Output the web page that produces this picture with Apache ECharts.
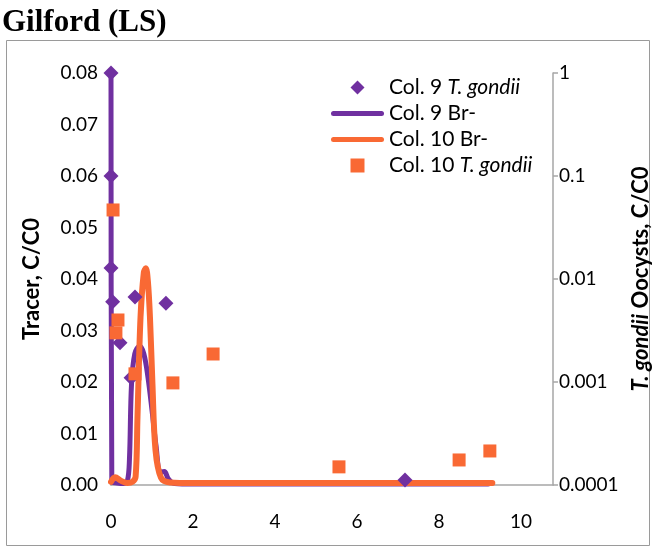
<!DOCTYPE html>
<html>
<head>
<meta charset="utf-8">
<title>Gilford (LS)</title>
<script src="https://cdn.jsdelivr.net/npm/echarts@6/dist/echarts.min.js"></script>
<style>
  html, body { margin: 0; padding: 0; background: #fff; }
  #chart { width: 656px; height: 550px; }
</style>
</head>
<body>
<div id="chart"></div>
<script>
// Column 9 tracer (Br-) breakthrough curve: [pore volumes, C/C0]
const col9Br = [
  [0, 0.080], [0.02, 0.0006], [0.15, 0.0004], [0.3, 0.0003], [0.4, 0.0008],
  [0.45, 0.005], [0.5, 0.0195], [0.58, 0.0255], [0.7, 0.0270], [0.8, 0.0255],
  [0.9, 0.021], [1.0, 0.0145], [1.1, 0.0075], [1.2, 0.0025], [1.3, 0.0026],
  [1.4, 0.0012], [1.55, 0.0003], [2, 0.0002], [4, 0.0002], [6, 0.0002],
  [8, 0.0002], [9.2, 0.0002]
];

// Column 10 tracer (Br-) breakthrough curve
const col10Br = [
  [0, 0.0006], [0.1, 0.0015], [0.25, 0.0008], [0.4, 0.0004], [0.52, 0.0006],
  [0.6, 0.0016], [0.646, 0.0132], [0.72, 0.0326], [0.8, 0.0412], [0.85, 0.0421],
  [0.9, 0.0395], [0.95, 0.0326], [1.01, 0.0198], [1.085, 0.0068], [1.22, 0.0014],
  [1.44, 0.0005], [2, 0.0004], [4, 0.0004], [6, 0.0004], [8, 0.0004], [9.3, 0.0004]
];

// T. gondii oocyst concentrations (log scale, right axis)
const col9Tgondii = [
  [0, 1.0], [0, 0.1], [0, 0.0128], [0.04, 0.006], [0.22, 0.0024],
  [0.49, 0.0011], [0.585, 0.0067], [1.34, 0.0058], [7.17, 0.000112]
];
const col10Tgondii = [
  [0.05, 0.0468], [0.17, 0.0040], [0.12, 0.0030], [0.585, 0.0012],
  [1.51, 0.00098], [2.49, 0.00187], [5.56, 0.00015], [8.49, 0.000175], [9.24, 0.000214]
];

const seriesNames = ['Col. 9 T. gondii', 'Col. 9 Br-', 'Col. 10 Br-', 'Col. 10 T. gondii'];
const logTickLabels = { '1': '1', '0.1': '0.1', '0.01': '0.01', '0.001': '0.001', '0.0001': '0.0001' };

const PURPLE = '#7030A0';
const ORANGE = '#F96934';
const AXIS_GREY = '#A6A6A6';
const FONT = 'Lato, "Open Sans", sans-serif';

const chart = echarts.init(document.getElementById('chart'), null, { renderer: 'canvas' });

function legendText(name) {
  const m = name.match(/^(Col\. \d+) (T\. gondii)$/);
  return m ? m[1] + ' {i|' + m[2] + '}' : name;
}

// legend icons: diamond / thick bar / square, centred in a 53 x 14 box
const ICON_DIAMOND = 'path://M0,-1L1,0L0,1L-1,0Z';
const ICON_BAR = 'path://M2.5,0L50.5,0A2.5,2.5,0,0,1,50.5,5L2.5,5A2.5,2.5,0,0,1,2.5,0Z';
const ICON_SQUARE = 'path://M0,0L13,0L13,13L0,13Z';

chart.setOption({
  animation: false,
  backgroundColor: '#fff',
  textStyle: { fontFamily: FONT },
  title: {
    text: 'Gilford (LS)',
    left: -3,
    top: 2,
    textStyle: { fontFamily: '"Liberation Serif", serif', fontWeight: 'bold', fontSize: 31, color: '#000' }
  },
  graphic: [{
    type: 'rect',
    shape: { x: 6.5, y: 40.5, width: 643, height: 505 },
    style: { fill: 'none', stroke: '#9A9A9A', lineWidth: 1 },
    silent: true,
    z: -1
  }],
  grid: { left: 111, right: 103, top: 73, bottom: 65, containLabel: false, outerBoundsMode: 'none' },
  legend: {
    orient: 'vertical',
    left: 326,
    top: 72,
    itemWidth: 53,
    itemHeight: 14,
    itemGap: 5,
    symbolKeepAspect: true,
    textStyle: {
      fontFamily: FONT, fontSize: 21, color: '#000',
      rich: { i: { fontFamily: FONT, fontSize: 21, fontStyle: 'italic', color: '#000' } }
    },
    formatter: legendText,
    data: [
      { name: seriesNames[0], icon: ICON_DIAMOND, itemStyle: { color: PURPLE, opacity: 1 } },
      { name: seriesNames[1], icon: ICON_BAR, itemStyle: { color: PURPLE, opacity: 1 } },
      { name: seriesNames[2], icon: ICON_BAR, itemStyle: { color: ORANGE, opacity: 1 } },
      { name: seriesNames[3], icon: ICON_SQUARE, itemStyle: { color: ORANGE, opacity: 1 } }
    ]
  },
  xAxis: {
    type: 'value',
    min: 0,
    max: 10.78,
    interval: 2,
    axisLine: { show: true, lineStyle: { color: AXIS_GREY, width: 1.5 } },
    axisTick: { show: false },
    splitLine: { show: false },
    axisLabel: {
      showMaxLabel: false,
      margin: 27,
      fontFamily: FONT, fontSize: 19, color: '#000'
    }
  },
  yAxis: [{
    type: 'value',
    position: 'left',
    min: 0,
    max: 0.08,
    interval: 0.01,
    name: 'Tracer, C/C0',
    nameLocation: 'middle',
    nameGap: 68,
    nameTextStyle: { fontFamily: FONT, fontWeight: 'bold', fontSize: 22, color: '#000' },
    axisLine: { show: true, lineStyle: { color: AXIS_GREY, width: 1.5 } },
    axisTick: { show: false },
    splitLine: { show: false },
    axisLabel: {
      margin: 13,
      fontFamily: FONT, fontSize: 19, color: '#000',
      formatter: v => v.toFixed(2)
    }
  }, {
    type: 'log',
    logBase: 10,
    position: 'right',
    min: 0.0001,
    max: 1,
    name: '{i|T. gondii} Oocysts, C/C0',
    nameLocation: 'middle',
    nameGap: 52,
    nameTextStyle: {
      fontFamily: FONT, fontWeight: 'bold', fontSize: 22, color: '#000',
      rich: { i: { fontFamily: FONT, fontWeight: 'bold', fontStyle: 'italic', fontSize: 22, color: '#000' } }
    },
    axisLine: { show: true, lineStyle: { color: AXIS_GREY, width: 1.5 } },
    axisTick: { show: true, inside: false, length: 5, lineStyle: { color: AXIS_GREY, width: 1.5 } },
    splitLine: { show: false },
    axisLabel: {
      margin: 6,
      fontFamily: FONT, fontSize: 19, color: '#000',
      formatter: v => {
        const key = String(+v.toPrecision(6));
        return logTickLabels[key] !== undefined ? logTickLabels[key] : '';
      }
    }
  }],
  series: [{
    name: seriesNames[0],
    type: 'scatter',
    yAxisIndex: 1,
    symbol: 'diamond',
    symbolSize: 15,
    itemStyle: { color: PURPLE, opacity: 1 },
    data: col9Tgondii,
    z: 4
  }, {
    name: seriesNames[1],
    type: 'line',
    yAxisIndex: 0,
    showSymbol: false,
    symbol: 'none',
    smooth: 0.35,
    lineStyle: { color: PURPLE, width: 5, cap: 'round', join: 'round' },
    itemStyle: { color: PURPLE },
    data: col9Br,
    z: 2
  }, {
    name: seriesNames[2],
    type: 'line',
    yAxisIndex: 0,
    showSymbol: false,
    symbol: 'none',
    smooth: 0.35,
    lineStyle: { color: ORANGE, width: 6, cap: 'round', join: 'round' },
    itemStyle: { color: ORANGE },
    data: col10Br,
    z: 3
  }, {
    name: seriesNames[3],
    type: 'scatter',
    yAxisIndex: 1,
    symbol: 'rect',
    symbolSize: 13,
    itemStyle: { color: ORANGE, opacity: 1 },
    data: col10Tgondii,
    z: 5
  }]
});
</script>
</body>
</html>
